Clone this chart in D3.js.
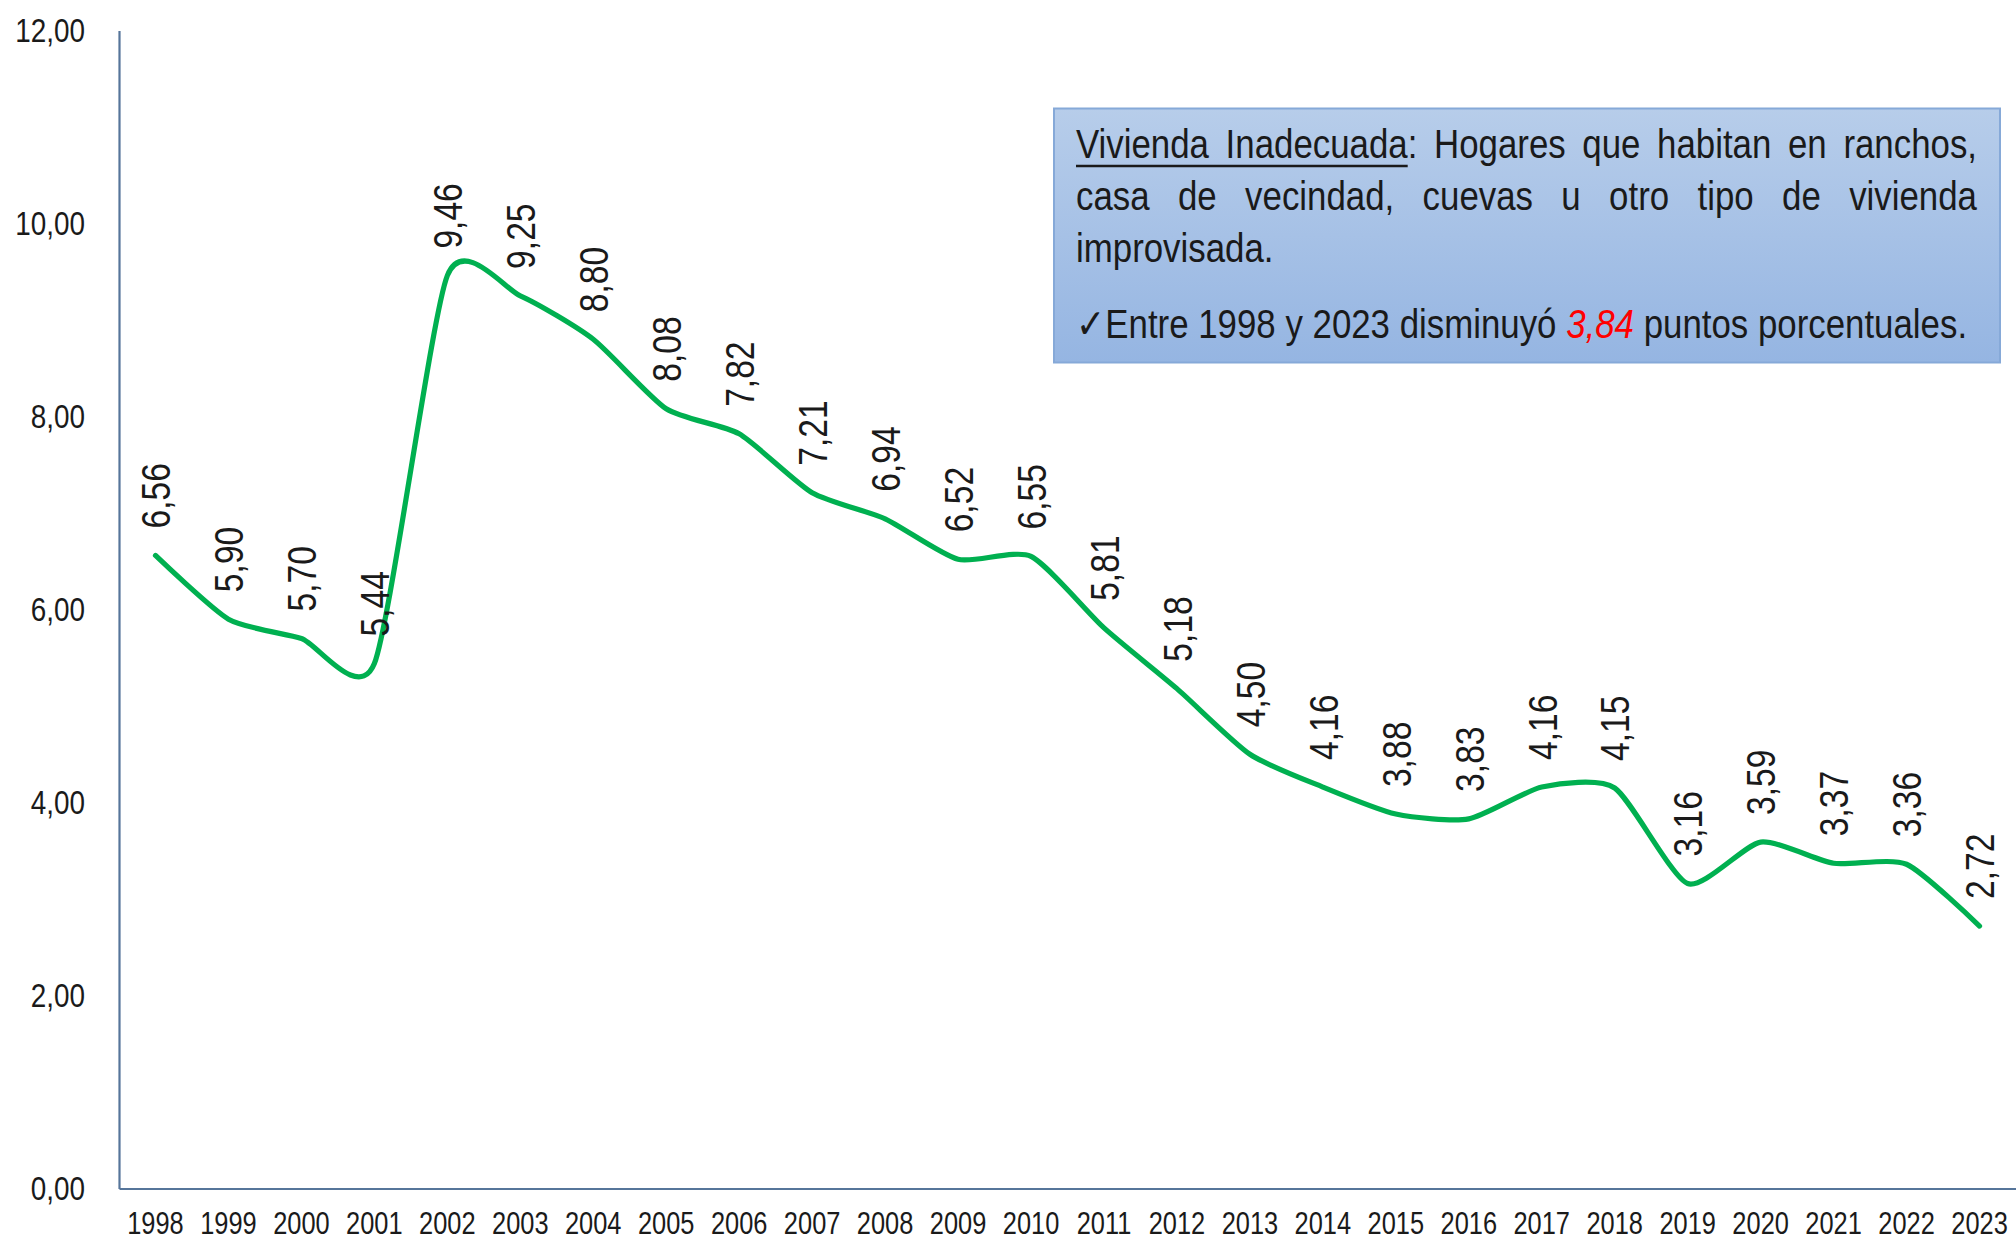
<!DOCTYPE html>
<html><head><meta charset="utf-8">
<script src="https://cdn.jsdelivr.net/npm/d3@7"></script>
<style>
html,body{margin:0;padding:0;background:#fff;}
svg{display:block;}
text{font-family:"Liberation Sans Narrow","Arial Narrow","Liberation Sans",Arial,sans-serif;fill:#1a1a1a;}
</style></head>
<body>
<svg id="chart" width="2016" height="1240"></svg>
<script>
// ---- data ----
const years = ["1998","1999","2000","2001","2002","2003","2004","2005","2006","2007","2008","2009","2010","2011","2012","2013","2014","2015","2016","2017","2018","2019","2020","2021","2022","2023"];
const values = [6.56,5.90,5.70,5.44,9.46,9.25,8.80,8.08,7.82,7.21,6.94,6.52,6.55,5.81,5.18,4.50,4.16,3.88,3.83,4.16,4.15,3.16,3.59,3.37,3.36,2.72];
const yTicks = [0,2,4,6,8,10,12];
const noteLines = [
  ["Vivienda","Inadecuada:","Hogares","que","habitan","en","ranchos,"],
  ["casa","de","vecindad,","cuevas","u","otro","tipo","de","vivienda"],
  ["improvisada."]
];
const noteCheck = ["✓Entre 1998 y 2023 disminuyó ", "3,84", " puntos porcentuales."];

// ---- setup ----
const svg = d3.select("#chart");
const loc = d3.formatLocale({decimal:",", thousands:".", grouping:[3], currency:["",""]});
const fmt = loc.format(".2f");

// detect whether a real narrow font is available; otherwise compress a regular one
const probe = svg.append("text").attr("font-size",100).text("0000");
const wNarrow = probe.node().getComputedTextLength();
probe.style("font-family","'Liberation Sans',Arial,sans-serif");
const wReg = probe.node().getComputedTextLength();
probe.remove();
const isNarrow = wNarrow < wReg*0.9;
const SX = isNarrow ? 1 : 0.82;
const SXB = isNarrow ? 1.04 : 0.85;

const x = d3.scaleBand().domain(years).range([119, 2016]);
const y = d3.scaleLinear().domain([0, 12]).range([1188.5, 30.5]);
const cx = d => x(d) + x.bandwidth()/2;

// axes
const axisColor = "#56759a";
const gy = svg.append("g").attr("transform","translate(119,0)")
  .call(d3.axisLeft(y).tickValues(yTicks).tickSize(0).tickPadding(34).tickFormat(fmt));
gy.select(".domain").attr("stroke", axisColor).attr("stroke-width", 2.2);
gy.selectAll(".tick text").attr("font-size", 34).attr("fill","#1a1a1a")
  .attr("x", -34/SX).attr("transform",`scale(${SX},1)`);

const gx = svg.append("g").attr("transform","translate(0,1188.5)")
  .call(d3.axisBottom(x).tickSize(0).tickSizeOuter(0).tickPadding(23));
gx.select(".domain").attr("stroke", axisColor).attr("stroke-width", 2.2);
gx.selectAll(".tick text").attr("font-size", 31).attr("fill","#1a1a1a")
  .attr("transform",`scale(${SX},1)`);
gy.attr("font-family",null); gx.attr("font-family",null);

// line
const pts = years.map((yr,i)=>[cx(yr), y(values[i])]);
svg.append("path")
  .attr("d", d3.line().curve(d3.curveCardinal.tension(0.35))(pts))
  .attr("fill","none").attr("stroke","#00b050").attr("stroke-width",5.2)
  .attr("stroke-linecap","round").attr("stroke-linejoin","round");

// data labels
svg.append("g").selectAll("text").data(years).join("text")
  .attr("transform",(d,i)=>`translate(${cx(d)},${y(values[i])-27}) rotate(-90) scale(${SX},1)`)
  .attr("dy","0.36em")
  .attr("text-anchor","start")
  .attr("font-size",41)
  .text((d,i)=>fmt(values[i]));

// annotation box
const defs = svg.append("defs");
const grad = defs.append("linearGradient").attr("id","boxg").attr("x1",0).attr("y1",0).attr("x2",0).attr("y2",1);
grad.append("stop").attr("offset","0%").attr("stop-color","#b7cdea");
grad.append("stop").attr("offset","100%").attr("stop-color","#95b5e2");
svg.append("rect").attr("x",1054).attr("y",108.5).attr("width",946).attr("height",254)
  .attr("fill","url(#boxg)").attr("stroke","#86a9d8").attr("stroke-width",2);

const left = 1076, right = 1977;
const boxG = svg.append("g").attr("transform",`translate(${left},0) scale(${SXB},1)`);
const avail = (right-left)/SXB;
const baselines = [158, 210, 262];
const fs = 41;
noteLines.forEach((words, li) => {
  const nodes = words.map(w => boxG.append("text").attr("font-size",fs).attr("y",baselines[li]).text(w));
  const widths = nodes.map(n => n.node().getComputedTextLength());
  const total = d3.sum(widths);
  const justify = li < noteLines.length - 1 && words.length > 1;
  const gap = justify ? (avail - total) / (words.length - 1) : fs*0.28;
  let cur = 0;
  nodes.forEach((n, k) => { n.attr("x", cur); cur += widths[k] + gap; });
  if (li === 0) {
    const tmp = boxG.append("text").attr("font-size",fs).text(":");
    const colonW = tmp.node().getComputedTextLength(); tmp.remove();
    const endX = +nodes[1].attr("x") + widths[1] - colonW;
    boxG.append("line").attr("x1",0).attr("x2",endX).attr("y1",166).attr("y2",166)
      .attr("stroke","#1a1a1a").attr("stroke-width",2.4);
  }
});
const t4 = boxG.append("text").attr("x",0).attr("y",338).attr("font-size",fs);
t4.append("tspan").text(noteCheck[0]);
t4.append("tspan").attr("fill","#ff0000").attr("font-style","italic").text(noteCheck[1]);
t4.append("tspan").text(noteCheck[2]);
</script>
</body></html>
